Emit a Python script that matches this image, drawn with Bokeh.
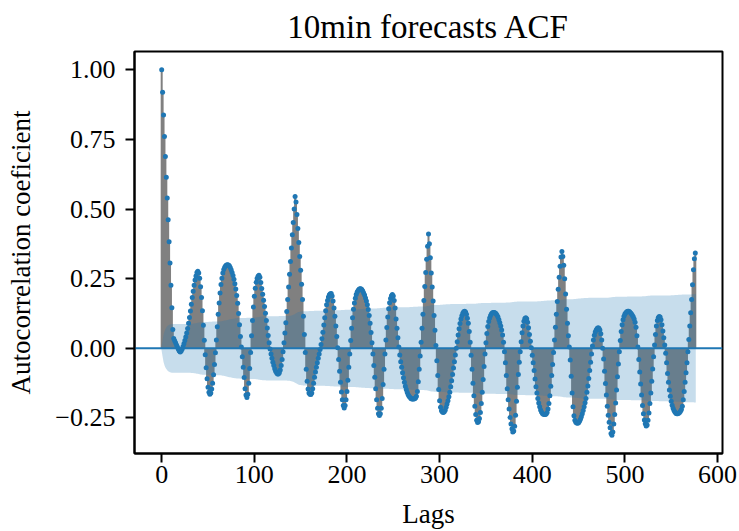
import numpy as np
from bokeh.plotting import figure
from bokeh.models import Range1d, FixedTicker
from bokeh.embed import file_html
from bokeh.resources import INLINE

# ---------------- data ----------------
title_text = "10min forecasts ACF"
x_label = "Lags"
y_label = "Autocorrelation coeficient"

acf_values = [
    1.000, 0.919, 0.838, 0.760, 0.689, 0.614, 0.540, 0.462, 0.383, 0.306,      # 0-9
    0.226, 0.146, 0.068, 0.035, 0.027, 0.020, 0.012, 0.005, -0.003, -0.010,    # 10-19
    -0.013, -0.010, -0.003, 0.006, 0.016, 0.028, 0.041, 0.055, 0.071, 0.090,   # 20-29
    0.111, 0.134, 0.158, 0.182, 0.205, 0.226, 0.245, 0.260, 0.272, 0.277,      # 30-39
    0.270, 0.252, 0.221, 0.182, 0.135, 0.083, 0.029, -0.023, -0.070, -0.109,   # 40-49
    -0.140, -0.158, -0.165, -0.160, -0.146, -0.125, -0.095, -0.058, -0.016, 0.030,  # 50-59
    0.077, 0.122, 0.163, 0.199, 0.229, 0.252, 0.270, 0.283, 0.291, 0.296,      # 60-69
    0.299, 0.300, 0.299, 0.296, 0.290, 0.282, 0.272, 0.261, 0.248, 0.232,      # 70-79
    0.213, 0.190, 0.162, 0.125, 0.085, 0.042, 0.005, -0.030, -0.068, -0.105,   # 80-89
    -0.145, -0.168, -0.177, -0.165, -0.125, -0.072, -0.015, 0.045, 0.100, 0.148,  # 90-99
    0.187, 0.216, 0.237, 0.251, 0.259, 0.262, 0.255, 0.236, 0.215, 0.194,      # 100-109
    0.173, 0.150, 0.126, 0.100, 0.073, 0.046, 0.020, -0.002, -0.020, -0.036,   # 110-119
    -0.050, -0.062, -0.073, -0.082, -0.088, -0.092, -0.092, -0.088, -0.078, -0.062,  # 120-129
    -0.040, -0.012, 0.020, 0.055, 0.092, 0.132, 0.175, 0.220, 0.266, 0.312,    # 130-139
    0.360, 0.408, 0.452, 0.500, 0.545, 0.525, 0.480, 0.430, 0.380, 0.330,      # 140-149
    0.280, 0.230, 0.175, 0.115, 0.050, -0.015, -0.075, -0.118, -0.146, -0.160, # 150-159
    -0.165, -0.166, -0.160, -0.145, -0.125, -0.104, -0.085, -0.068, -0.052, -0.036,  # 160-169
    -0.020, -0.004, 0.014, 0.034, 0.058, 0.084, 0.110, 0.135, 0.156, 0.172,    # 170-179
    0.184, 0.192, 0.196, 0.197, 0.188, 0.170, 0.145, 0.115, 0.080, 0.042,      # 180-189
    0.002, -0.040, -0.082, -0.122, -0.157, -0.185, -0.205, -0.214, -0.205, -0.185,  # 190-199
    -0.155, -0.115, -0.068, -0.020, 0.028, 0.072, 0.110, 0.140, 0.163, 0.180,  # 200-209
    0.193, 0.202, 0.208, 0.212, 0.214, 0.214, 0.211, 0.206, 0.199, 0.191,      # 210-219
    0.181, 0.170, 0.156, 0.139, 0.118, 0.090, 0.057, 0.020, -0.020, -0.062,    # 220-229
    -0.104, -0.145, -0.185, -0.215, -0.235, -0.241, -0.235, -0.215, -0.180, -0.130,  # 230-239
    -0.075, -0.020, 0.030, 0.075, 0.112, 0.142, 0.164, 0.179, 0.189, 0.193,    # 240-249
    0.188, 0.172, 0.145, 0.105, 0.072, 0.038, 0.005, -0.024, -0.048, -0.068,   # 250-259
    -0.088, -0.106, -0.122, -0.136, -0.148, -0.158, -0.166, -0.172, -0.176, -0.180,  # 260-269
    -0.182, -0.182, -0.182, -0.181, -0.178, -0.172, -0.155, -0.120, -0.075, -0.028,  # 270-279
    0.022, 0.072, 0.122, 0.172, 0.222, 0.272, 0.320, 0.366, 0.410, 0.375,      # 280-289
    0.325, 0.270, 0.220, 0.170, 0.118, 0.065, 0.010, -0.045, -0.098, -0.148,   # 290-299
    -0.188, -0.212, -0.224, -0.229, -0.230, -0.228, -0.222, -0.212, -0.200, -0.188,  # 300-309
    -0.174, -0.158, -0.138, -0.116, -0.094, -0.071, -0.048, -0.024, 0.000, 0.024,    # 310-319
    0.048, 0.070, 0.089, 0.105, 0.117, 0.126, 0.131, 0.133, 0.130, 0.122,      # 320-329
    0.108, 0.090, 0.060, 0.022, -0.025, -0.075, -0.125, -0.170, -0.208, -0.238,  # 330-339
    -0.258, -0.266, -0.264, -0.252, -0.230, -0.198, -0.158, -0.112, -0.065, -0.020,  # 340-349
    0.020, 0.053, 0.078, 0.096, 0.109, 0.118, 0.124, 0.128, 0.129, 0.129,      # 350-359
    0.127, 0.124, 0.119, 0.112, 0.103, 0.092, 0.080, 0.066, 0.048, 0.022,      # 360-369
    -0.012, -0.052, -0.098, -0.145, -0.185, -0.218, -0.248, -0.272, -0.290, -0.300,  # 370-379
    -0.297, -0.280, -0.240, -0.190, -0.140, -0.094, -0.050, -0.012, 0.024, 0.056,    # 380-389
    0.080, 0.097, 0.107, 0.110, 0.106, 0.094, 0.074, 0.050, 0.025, 0.002,      # 390-399
    -0.025, -0.052, -0.080, -0.110, -0.138, -0.160, -0.180, -0.196, -0.210, -0.221,  # 400-409
    -0.229, -0.234, -0.237, -0.238, -0.238, -0.236, -0.230, -0.218, -0.198, -0.170,  # 410-419
    -0.136, -0.098, -0.058, -0.015, 0.030, 0.076, 0.122, 0.168, 0.212, 0.255,  # 420-429
    0.295, 0.328, 0.348, 0.330, 0.298, 0.250, 0.195, 0.140, 0.090, 0.045,      # 430-439
    0.005, -0.042, -0.100, -0.160, -0.210, -0.242, -0.258, -0.265, -0.268, -0.269,  # 440-449
    -0.267, -0.262, -0.255, -0.246, -0.235, -0.223, -0.210, -0.195, -0.180, -0.158,  # 450-459
    -0.135, -0.108, -0.080, -0.050, -0.020, 0.008, 0.030, 0.047, 0.059, 0.066, # 460-469
    0.071, 0.074, 0.072, 0.066, 0.052, 0.030, 0.000, -0.038, -0.082, -0.126,   # 470-479
    -0.168, -0.208, -0.240, -0.265, -0.285, -0.306, -0.312, -0.300, -0.272, -0.238,  # 480-489
    -0.196, -0.150, -0.102, -0.056, -0.012, 0.028, 0.060, 0.085, 0.103, 0.115, # 490-499
    0.123, 0.128, 0.131, 0.133, 0.133, 0.131, 0.128, 0.124, 0.119, 0.113,      # 500-509
    0.105, 0.094, 0.076, 0.045, 0.005, -0.040, -0.085, -0.128, -0.168, -0.205, # 510-519
    -0.235, -0.257, -0.271, -0.279, -0.275, -0.258, -0.232, -0.198, -0.160, -0.118,  # 520-529
    -0.074, -0.030, 0.012, 0.050, 0.080, 0.100, 0.110, 0.114, 0.112, 0.103,    # 530-539
    0.085, 0.062, 0.038, 0.012, -0.018, -0.052, -0.090, -0.122, -0.150, -0.172,  # 540-549
    -0.190, -0.204, -0.215, -0.223, -0.229, -0.233, -0.235, -0.235, -0.233, -0.230,  # 550-559
    -0.226, -0.220, -0.208, -0.185, -0.155, -0.122, -0.088, -0.052, -0.012, 0.032,   # 560-569
    0.080, 0.128, 0.175, 0.228, 0.282, 0.322, 0.342,                           # 570-576
]

n_obs = 4300          # series length used for the Bartlett confidence band
z_crit = 1.96         # 95 % band

x_ticks = [0, 100, 200, 300, 400, 500, 600]
y_ticks = [-0.25, 0.0, 0.25, 0.5, 0.75, 1.0]
y_tick_labels = ["\u22120.25", "0.00", "0.25", "0.50", "0.75", "1.00"]

# ---------------- derived quantities (as statsmodels does) ----------------
acf = np.array(acf_values)
lags = np.arange(len(acf), dtype=float)

var = np.ones(len(acf)) / n_obs
var[0] = 0.0
var[2:] *= 1 + 2 * np.cumsum(acf[1:-1] ** 2)
se = z_crit * np.sqrt(var)
band_x = lags.copy()
band_x[0] -= 0.5
band_x[-1] += 0.5

lo = min(acf.min(), (-se).min()); hi = max(acf.max(), se.max())
ypad = 0.05 * (hi - lo)
xlo, xhi = band_x.min(), band_x.max()
xpad = 0.05 * (xhi - xlo)
x_start, x_end = xlo - xpad, xhi + xpad
y_start, y_end = lo - ypad, hi + ypad

# ---------------- figure ----------------
FONT = "Liberation Serif"
p = figure(width=739, height=531, output_backend="svg", toolbar_location=None,
           x_range=Range1d(x_start, x_end),
           y_range=Range1d(y_start, y_end),
           min_border_left=134, min_border_right=17,
           min_border_top=50, min_border_bottom=78)

p.title.text = title_text
p.title.align = "center"
p.title.text_font = FONT
p.title.text_font_size = "33px"
p.title.text_font_style = "normal"
p.title.text_color = "black"
p.title.text_line_height = 0.85
p.title.standoff = 13

p.xgrid.visible = False
p.ygrid.visible = False
p.outline_line_color = "black"
p.outline_line_width = 2
p.background_fill_color = "white"
p.border_fill_color = "white"

# stems
p.segment(x0=lags, y0=np.zeros_like(acf), x1=lags, y1=acf,
          line_color="gray", line_width=2)
# zero line
p.line(x=[x_start, x_end], y=[0, 0], line_color="#1f77b4", line_width=2)
# markers
p.scatter(x=lags, y=acf, size=5, fill_color="#1f77b4", line_color="#1f77b4",
          line_width=0)
# confidence band
p.varea(x=band_x, y1=-se, y2=se, fill_color="#1f77b4", fill_alpha=0.25)

for ax in (p.xaxis[0], p.yaxis[0]):
    ax.axis_line_width = 2
    ax.axis_line_color = "black"
    ax.major_tick_line_width = 2
    ax.major_tick_line_color = "black"
    ax.major_tick_out = 9
    ax.major_tick_in = 0
    ax.minor_tick_line_color = None
    ax.major_label_text_font = FONT
    ax.major_label_text_font_size = "26px"
    ax.major_label_text_color = "black"
    ax.axis_label_text_font = FONT
    ax.axis_label_text_font_size = "27px"
    ax.axis_label_text_font_style = "normal"
    ax.axis_label_text_color = "black"

p.xaxis.ticker = FixedTicker(ticks=x_ticks)
p.yaxis.ticker = FixedTicker(ticks=y_ticks)
p.yaxis.major_label_overrides = {t: l for t, l in zip(y_ticks, y_tick_labels)}
p.xaxis.axis_label = x_label
p.yaxis.axis_label = y_label
p.xaxis.major_label_standoff = 3
p.yaxis.major_label_standoff = 10
p.xaxis.axis_label_standoff = 13
p.yaxis.axis_label_standoff = 16

open("out.html", "w").write(file_html(p, INLINE))
